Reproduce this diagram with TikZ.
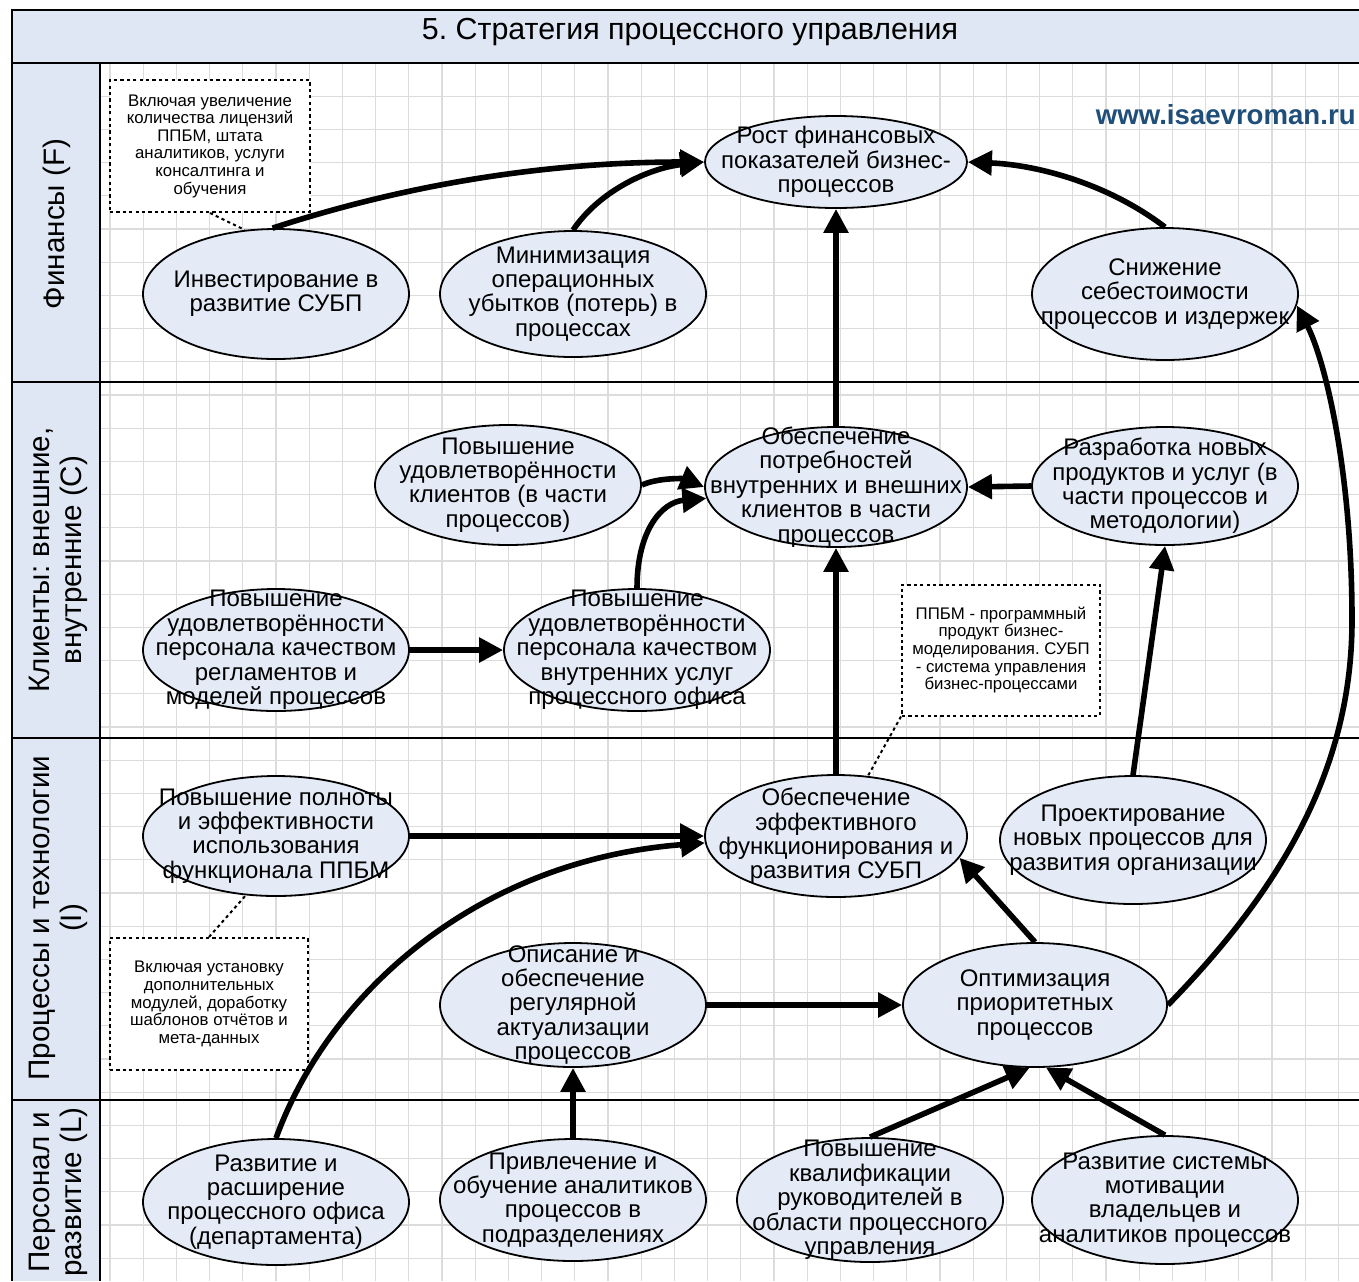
\documentclass[tikz,border=0pt]{standalone}
\usepackage{fontspec}
\setmainfont{Liberation Sans}
\usetikzlibrary{shapes.geometric,arrows.meta}
\definecolor{ellfill}{HTML}{E4EBF6}
\definecolor{lanefill}{HTML}{DEE7F3}
\definecolor{gridc}{HTML}{DCDCDC}
\definecolor{webblue}{HTML}{1F4E79}
\frenchspacing
\tikzset{
  goal/.style={ellipse, draw=black, line width=0.9pt, fill=ellfill,
    minimum width=133pt, minimum height=62pt, inner sep=0pt},
  txt/.style={font=\fontsize{12}{12.2}\selectfont, align=center, inner sep=0pt},
  note/.style={draw=black, line width=1pt, dash pattern=on 1.6pt off 1.6pt, fill=white,
    minimum width=100pt, minimum height=66pt, inner sep=0pt, align=center,
    font=\fontsize{8.4}{8.8}\selectfont},
  leader/.style={draw=black, line width=1pt, dash pattern=on 1.6pt off 1.6pt},
  arr/.style={line width=2.8pt, -{Triangle[length=12pt,width=12pt]}},
  lanelbl/.style={rotate=90, align=center, font=\fontsize{14.8}{16}\selectfont, inner sep=0pt},
  frameline/.style={line width=1pt, black}
}
\begin{document}
\begin{tikzpicture}[x=0.5pt,y=-0.5pt]
\useasboundingbox (0,0) rectangle (1359,1281);
\clip (0,0) rectangle (1359,1281);
\fill[white] (0,0) rectangle (1359,1281);
% grid
\foreach \i in {0,...,38} { \draw[gridc, line width=0.6pt] ({110+33.2*\i},63) -- ({110+33.2*\i},1281); }
\foreach \j in {0,...,37} { \draw[gridc, line width=0.6pt] (100,{63+33.2*\j}) -- (1359,{63+33.2*\j}); }
% bands
\fill[lanefill] (12,10) rectangle (1359,63);
\fill[lanefill] (12,63) rectangle (100,1281);
\draw[frameline] (1359,10) -- (12,10) -- (12,1281);
\draw[frameline] (12,63) -- (1359,63);
\draw[frameline] (100,63) -- (100,1281);
\draw[frameline] (12,382) -- (1359,382);
\draw[frameline] (12,738) -- (1359,738);
\draw[frameline] (12,1100) -- (1359,1100);
% title and lane labels
\node[font=\fontsize{15.2}{16}\selectfont, inner sep=0pt] (title) at (690,32) {5. Стратегия процессного управления};
\node[lanelbl] (laneF) at (57,224) {Финансы (F)};
\node[lanelbl] (laneC) at (58,560) {Клиенты: внешние,\\внутренние (C)};
\node[lanelbl] (laneI) at (58,918) {Процессы и технологии\\(I)};
\node[lanelbl] (laneL) at (58,1192) {Персонал и\\развитие (L)};
\node[anchor=east, font=\fontsize{13.8}{15}\selectfont\bfseries, text=webblue, inner sep=0pt] (web) at (1356,115) {www.isaevroman.ru};
% notes
\node[note] (noteA) at (210,146) {Включая увеличение\\количества лицензий\\ППБМ, штата\\аналитиков, услуги\\консалтинга и\\обучения};
\node[note, minimum width=99pt, minimum height=65.5pt] (noteB) at (1001,650) {ППБМ - программный\\продукт бизнес-\\моделирования. СУБП\\- система управления\\бизнес-процессами};
\node[note, minimum width=99pt] (noteC) at (209,1004) {Включая установку\\дополнительных\\модулей, доработку\\шаблонов отчётов и\\мета-данных};
% goals: Finance
\node[goal, minimum width=131pt, minimum height=46pt, label={[txt]center:{Рост финансовых\\показателей бизнес-\\процессов}}] (rost) at (836,162) {};
\node[goal, minimum height=65pt, label={[txt]center:{Инвестирование в\\развитие СУБП}}] (inv) at (276,294) {};
\node[goal, minimum height=63pt, label={[txt]center:{Минимизация\\операционных\\убытков (потерь) в\\процессах}}] (mini) at (573,294) {};
\node[goal, minimum height=66pt, label={[txt]center:{Снижение\\себестоимости\\процессов и издержек}}] (sniz) at (1165,294) {};
% Clients
\node[goal, minimum height=60pt, label={[txt]center:{Повышение\\удовлетворённости\\клиентов (в части\\процессов)}}] (klient) at (508,485) {};
\node[goal, minimum width=131pt, minimum height=60pt, label={[txt]center:{Обеспечение\\потребностей\\внутренних и внешних\\клиентов в части\\процессов}}] (potreb) at (836,487) {};
\node[goal, minimum height=59pt, label={[txt]center:{Разработка новых\\продуктов и услуг (в\\части процессов и\\методологии)}}] (razrab) at (1165,486) {};
\node[goal, minimum height=61pt, label={[txt]center:{Повышение\\удовлетворённости\\персонала качеством\\регламентов и\\моделей процессов}}] (regl) at (276,650) {};
\node[goal, minimum height=61pt, label={[txt]center:{Повышение\\удовлетворённости\\персонала качеством\\внутренних услуг\\процессного офиса}}] (uslug) at (637,650) {};
% Processes
\node[goal, minimum height=60pt, label={[txt]center:{Повышение полноты\\и эффективности\\использования\\функционала ППБМ}}] (polnota) at (276,836) {};
\node[goal, minimum width=131pt, minimum height=61pt, label={[txt]center:{Обеспечение\\эффективного\\функционирования и\\развития СУБП}}] (effekt) at (836,836) {};
\node[goal, minimum height=64pt, label={[txt]center:{Проектирование\\новых процессов для\\развития организации}}] (proekt) at (1133,840) {};
\node[goal, label={[txt]center:{Описание и\\обеспечение\\регулярной\\актуализации\\процессов}}] (opis) at (573,1005) {};
\node[goal, minimum width=132pt, label={[txt]center:{Оптимизация\\приоритетных\\процессов}}] (optim) at (1035,1005) {};
% People
\node[goal, minimum height=63pt, label={[txt]center:{Развитие и\\расширение\\процессного офиса\\(департамента)}}] (ofis) at (276,1202) {};
\node[goal, minimum height=61pt, label={[txt]center:{Привлечение и\\обучение аналитиков\\процессов в\\подразделениях}}] (privl) at (573,1200) {};
\node[goal, label={[txt]center:{Повышение\\квалификации\\руководителей в\\области процессного\\управления}}] (kvalif) at (870,1200) {};
\node[goal, minimum height=64pt, label={[txt]center:{Развитие системы\\мотивации\\владельцев и\\аналитиков процессов}}] (motiv) at (1165,1200) {};
% note leaders
\draw[leader] (noteA.south) -- (inv.116);
\draw[leader] (noteB.south west) -- (effekt.62);
\draw[leader] (noteC.north) -- (polnota.-117);
% arrows
\draw[arr] (inv.93) .. controls (420,180) and (560,162) .. (rost.west);
\draw[arr] (mini.north) .. controls (600,190) and (650,168) .. (rost.west);
\draw[arr] (sniz.north) .. controls (1110,185) and (1040,165) .. (rost.east);
\draw[arr] (potreb.north) -- (rost.south);
\draw[arr] (klient.east) .. controls (660,477) and (685,479) .. (potreb.west);
\draw[arr] (uslug.north) .. controls (637,530) and (662,502) .. (potreb.185);
\draw[arr] (razrab.west) -- (potreb.east);
\draw[arr] (regl.east) -- (uslug.west);
\draw[arr] (effekt.north) -- (potreb.south);
\draw[arr] (proekt.north) -- (razrab.south);
\draw[arr] (polnota.east) -- (effekt.west);
\draw[arr] (ofis.north) .. controls (330,990) and (480,860) .. (effekt.183);
\draw[arr] (opis.east) -- (optim.west);
\draw[arr] (optim.north) -- (effekt.-10);
\draw[arr] (optim.east) .. controls (1290,880) and (1352,760) .. (1352,620) .. controls (1352,470) and (1325,360) .. (sniz.-5);
\draw[arr] (privl.north) -- (opis.south);
\draw[arr] (kvalif.north) -- (optim.-95);
\draw[arr] (motiv.north) -- (optim.-80);
\end{tikzpicture}
\end{document}
